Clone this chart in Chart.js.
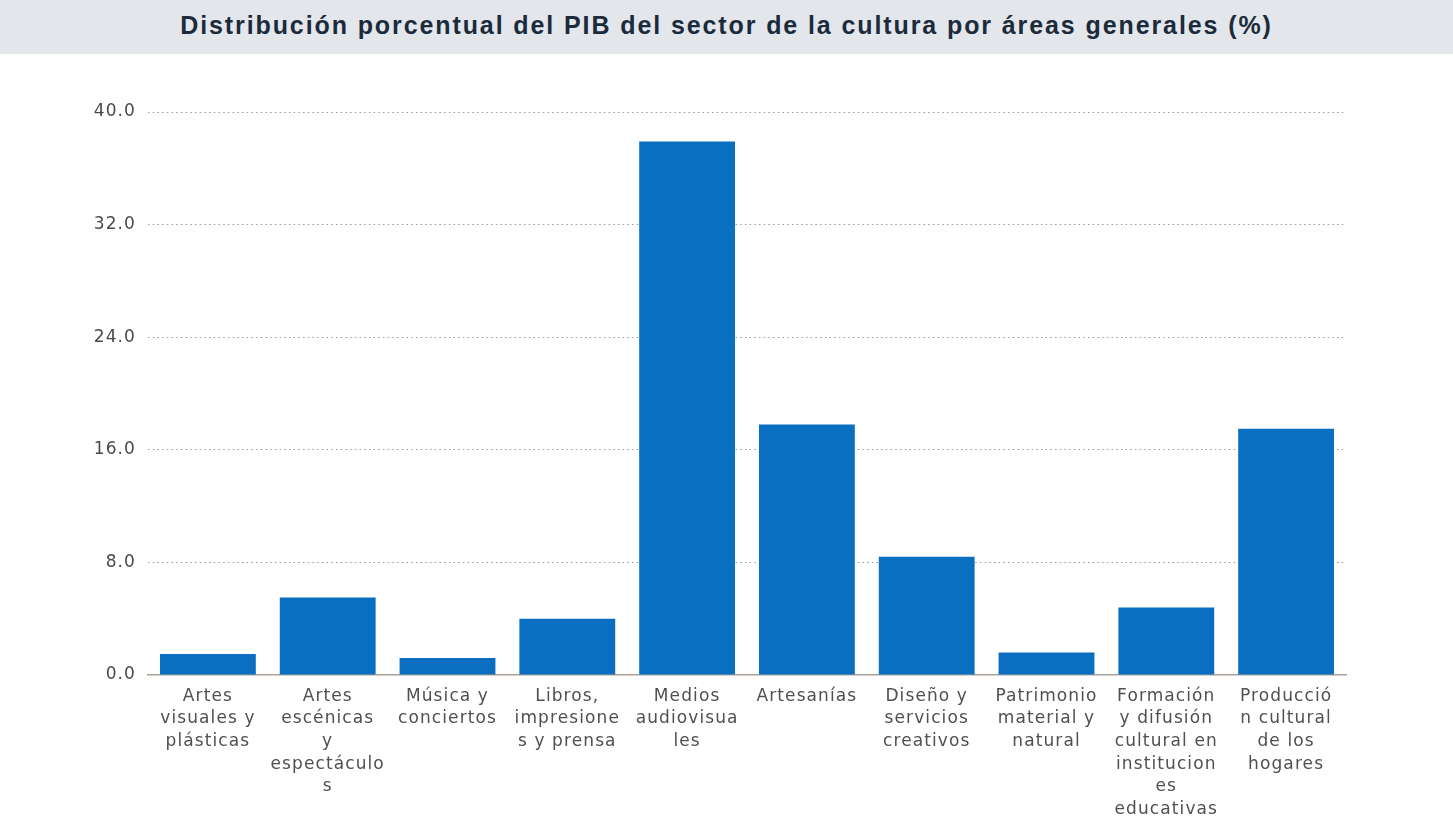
<!DOCTYPE html>
<html>
<head>
<meta charset="utf-8">
<script src="https://cdn.jsdelivr.net/npm/chart.js@4"></script>
<style>
  html, body { margin: 0; padding: 0; background: #fff; }
  #header {
    width: 1453px; height: 54px; background: #e3e6ea;
    font-family: "Liberation Sans", Arial, sans-serif; font-weight: bold; font-size: 25px;
    letter-spacing: 1.9px;
    color: #1c2b3c; text-align: center; line-height: 50px;
  }
  #wrap { width: 1453px; height: 774px; position: relative; }
</style>
</head>
<body>
<div id="header">Distribución porcentual del PIB del sector de la cultura por áreas generales (%)</div>
<div id="wrap"><canvas id="chart"></canvas></div>
<script>
// categorías (ya cortadas en líneas como en el original)
const categories = [
  ['Artes', 'visuales y', 'plásticas'],
  ['Artes', 'escénicas', 'y', 'espectáculo', 's'],
  ['Música y', 'conciertos'],
  ['Libros,', 'impresione', 's y prensa'],
  ['Medios', 'audiovisua', 'les'],
  ['Artesanías'],
  ['Diseño y', 'servicios', 'creativos'],
  ['Patrimonio', 'material y', 'natural'],
  ['Formación', 'y difusión', 'cultural en', 'institucion', 'es', 'educativas'],
  ['Producció', 'n cultural', 'de los', 'hogares']
];
const pibShare = [1.5, 5.5, 1.2, 4.0, 37.9, 17.8, 8.4, 1.6, 4.8, 17.5];
const yTicks = [0, 8, 16, 24, 32, 40];

// el texto del original es más ancho: un poco de espacio entre letras
const wideText = {
  id: 'wideText',
  beforeLayout: (chart) => { chart.ctx.letterSpacing = '1.1px'; },
  beforeDraw: (chart) => { chart.ctx.letterSpacing = '1.1px'; },
};

const ctx = document.getElementById('chart');

new Chart(ctx, {
  type: 'bar',
  data: {
    labels: categories,
    datasets: [
      {
        label: 'PIB cultura (%)',
        data: pibShare,
        backgroundColor: '#0b6fc1',
        categoryPercentage: 1.0,
        barPercentage: 0.8,
      },
    ],
  },
  plugins: [wideText],
  options: {
    animation: false,
    responsive: true,
    maintainAspectRatio: false,
    layout: { padding: { top: 58, right: 107, left: 0, bottom: 0 } },
    plugins: {
      legend: { display: false },
      tooltip: { enabled: false },
    },
    scales: {
      x: {
        grid: { display: false, drawTicks: false },
        border: { display: true, color: '#a9a196', width: 1.5 },
        ticks: {
          color: '#505050',
          padding: 10,
          maxRotation: 0,
          autoSkip: false,
          font: { family: 'DejaVu Sans', size: 17, lineHeight: 1.33 },
        },
        afterFit: (s) => { s.height = 153; },
      },
      y: {
        min: 0,
        max: 40,
        afterBuildTicks: (s) => { s.ticks = yTicks.map((v) => ({ value: v })); },
        grid: {
          drawTicks: false,
          color: (c) => (c.tick && c.tick.value === 0 ? 'rgba(0,0,0,0)' : '#9a9a9a'),
          lineWidth: 1,
        },
        border: { display: false, dash: [1.5, 3.2] },
        ticks: {
          color: '#4a4a4a',
          padding: 12,
          font: { family: 'DejaVu Sans', size: 17 },
          callback: (v) => v.toFixed(1),
        },
        afterFit: (s) => { s.width = 148; },
      },
    },
  },
});
</script>
</body>
</html>
